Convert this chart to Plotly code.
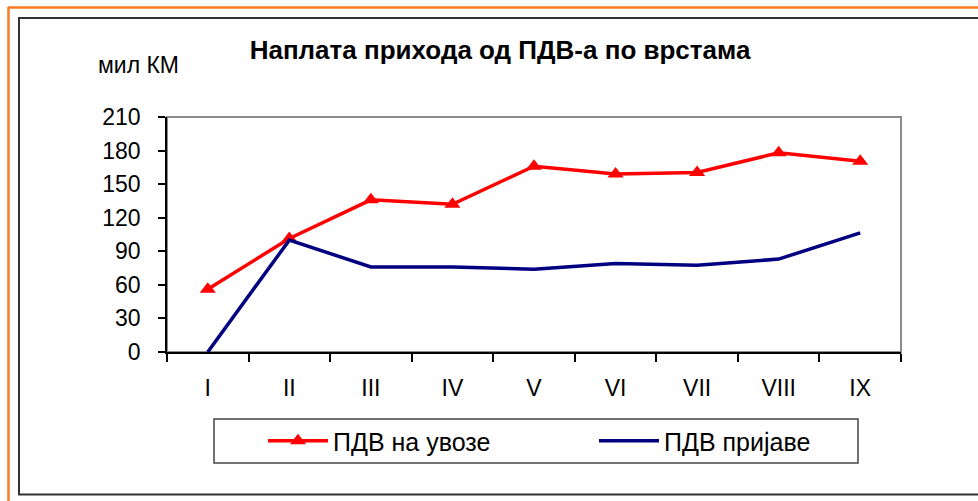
import plotly.graph_objects as go

months = ["I", "II", "III", "IV", "V", "VI", "VII", "VIII", "IX"]
import_vat = [56, 101.5, 136, 132, 166, 159, 160.5, 178, 170.5]
declared_vat = [0, 100, 76, 76, 74, 79, 77.5, 83, 106.5]
y_ticks = [0, 30, 60, 90, 120, 150, 180, 210]

W, H = 978, 501
L, R, T, B = 167, 901, 117, 352

def px(x):
    return (x - L) / (R - L)

def py(y):
    return (B - y) / (B - T)

FONT = "Liberation Sans, Arial, sans-serif"

fig = go.Figure()
fig.add_trace(go.Scatter(
    x=months, y=import_vat, name="ПДВ на увозе", mode="lines+markers",
    line=dict(color="#FF0000", width=3.5),
    marker=dict(symbol="triangle-up", size=14, color="#FF0000"),
))
fig.add_trace(go.Scatter(
    x=months, y=declared_vat, name="ПДВ пријаве", mode="lines",
    line=dict(color="#000080", width=3.5),
))

shapes = [
    dict(type="rect", xref="paper", yref="paper", x0=0, x1=1, y0=0, y1=1,
         line=dict(color="#8C8C8C", width=2), layer="below"),
    dict(type="rect", xref="paper", yref="paper", x0=px(19), x1=px(990), y0=py(18), y1=py(494.5),
         line=dict(color="#333333", width=2)),
    dict(type="line", xref="paper", yref="paper", x0=px(8), x1=px(990), y0=py(7.5), y1=py(7.5),
         line=dict(color="#FF7A21", width=2.5)),
    dict(type="line", xref="paper", yref="paper", x0=px(8.5), x1=px(8.5), y0=py(7), y1=py(510),
         line=dict(color="#FF7A21", width=2.5)),
    dict(type="rect", xref="paper", yref="paper", x0=px(214), x1=px(858), y0=py(419), y1=py(463),
         line=dict(color="#444444", width=1.5)),
]

fig.update_layout(
    width=W, height=H,
    margin=dict(l=L, r=W - R, t=T, b=H - B),
    paper_bgcolor="white", plot_bgcolor="white",
    font=dict(family=FONT, color="black", size=22),
    title=dict(text="<b>Наплата прихода од ПДВ-а по врстама</b>", x=500 / W, xanchor="center",
               y=1 - 50 / H, yanchor="middle", font=dict(size=26, family=FONT, color="black")),
    showlegend=True,
    legend=dict(orientation="h", x=px(263), xanchor="left", y=py(441), yanchor="middle",
                font=dict(size=25, family=FONT), entrywidth=256, entrywidthmode="pixels",
                itemwidth=60, bgcolor="rgba(0,0,0,0)", borderwidth=0),
    shapes=shapes,
    annotations=[dict(text="мил КМ", xref="paper", yref="paper", x=px(138), y=py(65),
                      xanchor="center", yanchor="middle", showarrow=False,
                      font=dict(size=23, family=FONT, color="black"))],
    xaxis=dict(type="category", range=[-0.5, 8.5], tickson="boundaries", ticks="outside",
               ticklen=8, tickcolor="black", tickwidth=1.5, showline=True, linecolor="black",
               linewidth=1.5, showgrid=False, zeroline=False, ticklabelstandoff=15,
               tickfont=dict(size=23, family=FONT)),
    yaxis=dict(range=[0, 210], tickvals=y_ticks, ticks="outside", ticklen=7, tickcolor="black",
               tickwidth=1.5, showline=True, linecolor="black", linewidth=1.5, showgrid=False,
               zeroline=False, ticklabelstandoff=13, tickfont=dict(size=23, family=FONT)),
)

fig.write_html("out.html", config={"displayModeBar": False},
               post_script="document.body.style.margin='0';")
